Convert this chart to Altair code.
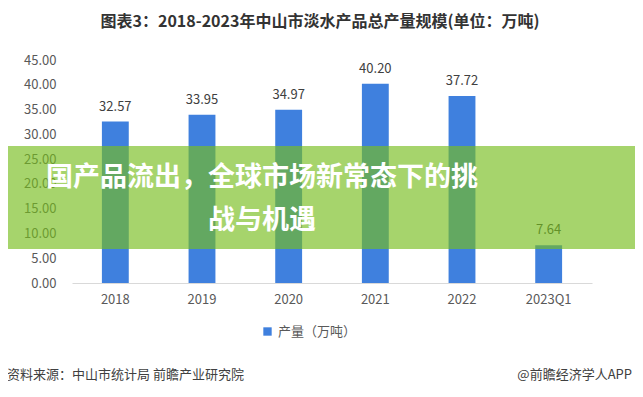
import altair as alt
import pandas as pd

years = ["2018", "2019", "2020", "2021", "2022", "2023Q1"]
values = [32.57, 33.95, 34.97, 40.20, 37.72, 7.64]
series_name = "产量（万吨）"
title_text = "图表3：2018-2023年中山市淡水产品总产量规模(单位：万吨)"
banner_line1 = "国产品流出，全球市场新常态下的挑"
banner_line2 = "战与机遇"
source_text = "资料来源：中山市统计局 前瞻产业研究院"
brand_text = "@前瞻经济学人APP"
y_ticks = [0, 5, 10, 15, 20, 25, 30, 35, 40, 45]

FONT = "Noto Sans CJK SC"
BLUE = "#3f80de"

df = pd.DataFrame({"year": years, "value": values, "series": [series_name] * len(years)})

W, H = 520, 223
LEFT, TOP = 64, 52

x_enc = alt.X("year:N", sort=years,
              scale=alt.Scale(paddingInner=0.69, paddingOuter=0.345),
              axis=alt.Axis(title=None, labelAngle=0, ticks=False, domainColor="#d9d9d9",
                            labelFont=FONT, labelFontSize=13, labelColor="#595959",
                            labelPadding=10))
y_enc = alt.Y("value:Q", scale=alt.Scale(domain=[0, 45], nice=False),
              axis=alt.Axis(title=None, values=y_ticks, format=".2f", grid=False,
                            domain=False, ticks=False, labelFont=FONT, labelFontSize=13,
                            labelColor="#595959", labelPadding=16, labelOverlap=False,
                            tickCount=10))

base = alt.Chart(df)

bars = base.mark_bar(color=BLUE).encode(
    x=x_enc, y=y_enc,
    color=alt.Color("series:N", scale=alt.Scale(range=[BLUE]),
                    legend=alt.Legend(title=None, orient="none", legendX=189, legendY=265,
                                      symbolType="square", symbolSize=70,
                                      labelFont=FONT, labelFontSize=13, labelColor="#595959",
                                      symbolStrokeWidth=0)),
)

labels = base.mark_text(font=FONT, fontSize=13, color="#404040", baseline="middle", dy=-15).encode(
    x=x_enc, y=y_enc, text=alt.Text("value:Q", format=".2f")
)

banner = alt.Chart(pd.DataFrame({"a": [1]})).mark_rect(color="#76bd1d", opacity=0.65).encode(
    x=alt.value(-LEFT - 8), x2=alt.value(643), y=alt.value(86), y2=alt.value(189)
)

text_df = pd.DataFrame({"a": [1]})
def txt(s, x, y, size, color, weight="normal", align="center"):
    return alt.Chart(text_df).mark_text(
        text=s, font=FONT, fontSize=size, color=color, fontWeight=weight,
        align=align, baseline="middle"
    ).encode(x=alt.value(x), y=alt.value(y))

title = txt(title_text, 248, -38, 16, "#333333", "bold")
b1 = txt(banner_line1, 190, 118, 27, "white", "bold")
b2 = txt(banner_line2, 190, 161, 27, "white", "bold")
src = txt(source_text, -65, 315, 13, "#404040", align="left")
brand = txt(brand_text, 560, 315, 13, "#404040", align="right")

chart = alt.layer(bars, labels, banner, b1, b2, title, src, brand).properties(
    width=W, height=H,
    autosize=alt.AutoSizeParams(type="none"),
    padding={"left": LEFT, "top": TOP, "right": 643 - 16 - LEFT - W, "bottom": 397 - 16 - TOP - H},
    background="white",
).configure_view(stroke=None)

chart.save("out.html", embed_options={"renderer": "svg", "actions": False})
